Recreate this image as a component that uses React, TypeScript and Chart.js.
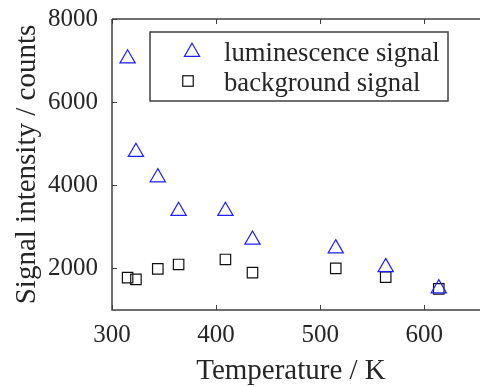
import React, { useEffect, useRef } from 'react';
import { Chart, registerables } from 'chart.js';

Chart.register(...registerables);

const temperatures = [315, 323, 344, 364, 409, 435, 515, 563, 614];
const luminescence = [7050, 4800, 4190, 3380, 3380, 2690, 2480, 2030, 1520];
const background = [1780, 1735, 1990, 2095, 2215, 1900, 2000, 1790, 1510];
const xTickValues = [300, 400, 500, 600];
const yTickValues = [2000, 4000, 6000, 8000];
const seriesLabels = ['luminescence signal', 'background signal'];
const xTitle = 'Temperature / K';
const yTitle = 'Signal intensity / counts';

const FONT = '"Liberation Serif", "Times New Roman", Times, serif';
const TEXT = '#262626';
const AXIS = '#404040';
const BLUE = 'rgb(30,30,255)';
const BLACK = '#111111';
const TRI_R = 8.8;
const RECT_R = 7.4;

const framePlugin = {
  id: 'frame',
  beforeDatasetsDraw(chart: any) {
    const { ctx, chartArea, scales } = chart;
    const { left, top, bottom } = chartArea;
    const right = chart.width;
    ctx.save();
    ctx.strokeStyle = AXIS;
    ctx.lineWidth = 1.5;
    ctx.beginPath();
    ctx.moveTo(left, top);
    ctx.lineTo(right, top);
    ctx.moveTo(left, top);
    ctx.lineTo(left, bottom);
    ctx.lineTo(right, bottom);
    ctx.stroke();
    ctx.lineWidth = 1;
    ctx.beginPath();
    xTickValues.forEach((v) => {
      const px = Math.round(scales.x.getPixelForValue(v)) + 0.5;
      ctx.moveTo(px, bottom);
      ctx.lineTo(px, bottom - 5);
      ctx.moveTo(px, top);
      ctx.lineTo(px, top + 5);
    });
    yTickValues.forEach((v) => {
      const py = Math.round(scales.y.getPixelForValue(v)) + 0.5;
      ctx.moveTo(left, py);
      ctx.lineTo(left + 5, py);
    });
    ctx.stroke();
    ctx.restore();
  },
};

function drawTriangle(ctx: CanvasRenderingContext2D, x: number, y: number, r: number) {
  ctx.beginPath();
  for (let i = 0; i < 3; i++) {
    const a = (i * 2 * Math.PI) / 3;
    const px = x + Math.sin(a) * r;
    const py = y - Math.cos(a) * r;
    if (i === 0) ctx.moveTo(px, py);
    else ctx.lineTo(px, py);
  }
  ctx.closePath();
  ctx.stroke();
}

const legendPlugin = {
  id: 'insideLegend',
  afterDraw(chart: any) {
    const { ctx, chartArea } = chart;
    const bx = chartArea.left + 38;
    const by = chartArea.top + 13;
    const bw = 298;
    const bh = 69;
    ctx.save();
    ctx.fillStyle = '#ffffff';
    ctx.fillRect(bx, by, bw, bh);
    ctx.strokeStyle = AXIS;
    ctx.lineWidth = 1.5;
    ctx.strokeRect(bx, by, bw, bh);

    ctx.lineWidth = 1.2;
    ctx.strokeStyle = BLUE;
    drawTriangle(ctx, bx + 42, by + 20, TRI_R);
    ctx.strokeStyle = BLACK;
    const s = RECT_R * Math.SQRT1_2;
    ctx.strokeRect(bx + 38 - s, by + 49 - s, 2 * s, 2 * s);

    ctx.fillStyle = TEXT;
    ctx.font = `26.7px ${FONT}`;
    ctx.textAlign = 'left';
    ctx.textBaseline = 'alphabetic';
    ctx.fillText(seriesLabels[0], bx + 74, by + 29);
    ctx.fillText(seriesLabels[1], bx + 74, by + 59);
    ctx.restore();
  },
};

export default function App() {
  const canvasRef = useRef<HTMLCanvasElement | null>(null);

  useEffect(() => {
    if (!canvasRef.current) return;
    const chart = new Chart(canvasRef.current, {
      type: 'scatter',
      data: {
        datasets: [
          {
            label: seriesLabels[0],
            data: temperatures.map((t, i) => ({ x: t, y: luminescence[i] })),
            pointStyle: 'triangle',
            pointRadius: TRI_R,
            pointHoverRadius: TRI_R,
            borderColor: BLUE,
            backgroundColor: 'rgba(0,0,0,0)',
            pointBorderWidth: 1.2,
            borderWidth: 1.2,
          },
          {
            label: seriesLabels[1],
            data: temperatures.map((t, i) => ({ x: t, y: background[i] })),
            pointStyle: 'rect',
            pointRadius: RECT_R,
            pointHoverRadius: RECT_R,
            borderColor: BLACK,
            backgroundColor: 'rgba(0,0,0,0)',
            pointBorderWidth: 1.2,
            borderWidth: 1.2,
          },
        ],
      },
      options: {
        animation: false,
        responsive: true,
        maintainAspectRatio: false,
        layout: { padding: { top: 19, left: 0, right: 0, bottom: 0 } },
        plugins: {
          legend: { display: false },
          tooltip: { enabled: false },
        },
        scales: {
          x: {
            type: 'linear',
            min: 300,
            max: 644,
            afterBuildTicks: (s: any) => {
              s.ticks = xTickValues.map((v) => ({ value: v }));
            },
            afterFit: (s: any) => {
              s.height = 77;
              s.paddingLeft = 0;
              s.paddingRight = 0;
            },
            grid: { display: false, drawTicks: false },
            border: { display: false },
            ticks: {
              padding: 10.5,
              color: TEXT,
              maxRotation: 0,
              font: { family: FONT, size: 25 },
              callback: (v: any) => String(v),
            },
            title: {
              display: true,
              text: xTitle,
              color: TEXT,
              font: { family: FONT, size: 29, lineHeight: 1 },
              padding: { top: 0, bottom: 1.5 },
            },
          },
          y: {
            type: 'linear',
            min: 1000,
            max: 8000,
            afterBuildTicks: (s: any) => {
              s.ticks = yTickValues.map((v) => ({ value: v }));
            },
            afterFit: (s: any) => {
              s.width = 112;
              s.paddingTop = 0;
              s.paddingBottom = 0;
            },
            grid: { display: false, drawTicks: false },
            border: { display: false },
            ticks: {
              padding: 14,
              color: TEXT,
              font: { family: FONT, size: 25 },
              callback: (v: any) => String(v),
            },
            title: {
              display: true,
              text: yTitle,
              color: TEXT,
              font: { family: FONT, size: 29, lineHeight: 1 },
              padding: { top: 13, bottom: 0 },
            },
          },
        },
      } as any,
      plugins: [framePlugin, legendPlugin],
    });
    return () => chart.destroy();
  }, []);

  return (
    <div style={{ position: 'fixed', left: 0, top: 0, width: 480, height: 387, background: '#ffffff' }}>
      <canvas ref={canvasRef} />
    </div>
  );
}
